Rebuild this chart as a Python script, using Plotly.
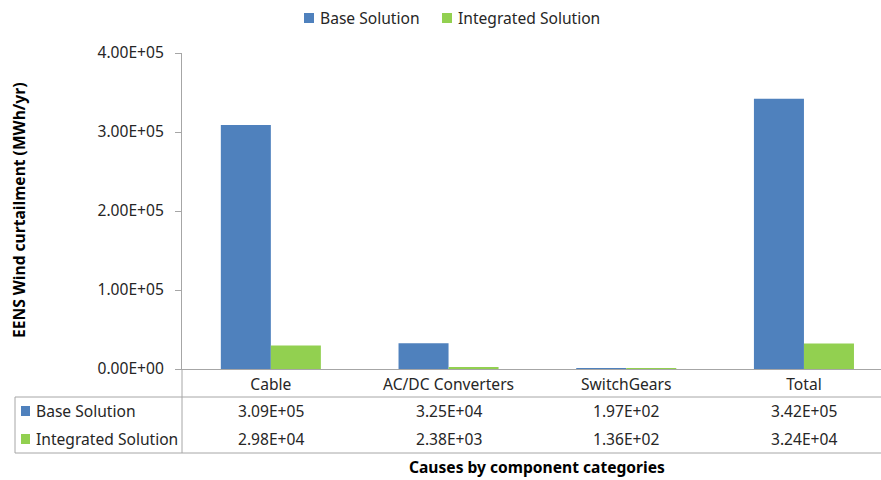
import plotly.graph_objects as go

categories = ["Cable", "AC/DC Converters", "SwitchGears", "Total"]
base_solution = [3.09e5, 3.25e4, 1.97e2, 3.42e5]
integrated_solution = [2.98e4, 2.38e3, 1.36e2, 3.24e4]
series_names = ["Base Solution", "Integrated Solution"]
colors = ["#4F81BD", "#92D050"]
y_ticks = [0, 1e5, 2e5, 3e5, 4e5]

FONT = "Noto Sans"
FS = 15.6
TXT = "#262626"
LINE = "#A6A6A6"
W, H = 881, 480
ML, MR, MT, MB = 182, 0, 53, 111
PW = W - ML - MR
PH = H - MT - MB


def px(x):
    return (x - ML) / PW


def py(y):
    return (H - MB - y) / PH


fig = go.Figure()
for name, vals, col in zip(series_names, [base_solution, integrated_solution], colors):
    fig.add_trace(go.Bar(name=name, x=list(range(len(categories))), y=vals,
                         marker=dict(color=col, line=dict(width=0)), showlegend=False))

shapes = []
annotations = []
# table lines
shapes.append(dict(type="line", xref="paper", yref="paper", x0=px(15), x1=1, y0=py(397), y1=py(397),
                   line=dict(color=LINE, width=1)))
shapes.append(dict(type="line", xref="paper", yref="paper", x0=px(15), x1=1, y0=py(453), y1=py(453),
                   line=dict(color=LINE, width=1)))
shapes.append(dict(type="line", xref="paper", yref="paper", x0=px(15), x1=px(15), y0=py(397), y1=py(453),
                   line=dict(color=LINE, width=1)))
shapes.append(dict(type="line", xref="paper", yref="paper", x0=0, x1=0, y0=0, y1=py(453),
                   line=dict(color=LINE, width=1)))

row_y = [411, 439]
for name, vals, col, ry in zip(series_names, [base_solution, integrated_solution], colors, row_y):
    shapes.append(dict(type="rect", xref="paper", yref="paper", x0=px(21), x1=px(30),
                       y0=py(ry - 5), y1=py(ry + 5), fillcolor=col, line=dict(width=0)))
    annotations.append(dict(text=name, xref="paper", yref="paper", x=px(34), y=py(ry),
                            xanchor="left", yanchor="middle", showarrow=False,
                            font=dict(family=FONT, size=FS, color=TXT)))
    for i, v in enumerate(vals):
        annotations.append(dict(text="{:.2E}".format(v), xref="x", yref="paper", x=i, y=py(ry),
                                xanchor="center", yanchor="middle", showarrow=False,
                                font=dict(family=FONT, size=FS, color=TXT)))

# top legend (drawn manually)
legend_x = [304, 442]
for name, col, lx in zip(series_names, colors, legend_x):
    shapes.append(dict(type="rect", xref="paper", yref="paper", x0=px(lx), x1=px(lx + 10),
                       y0=py(13), y1=py(23), fillcolor=col, line=dict(width=0)))
    annotations.append(dict(text=name, xref="paper", yref="paper", x=px(lx + 14), y=py(18),
                            xanchor="left", yanchor="middle", showarrow=False,
                            font=dict(family=FONT, size=FS, color=TXT)))

annotations.append(dict(text="<b>Causes by component categories</b>", xref="paper", yref="paper",
                        x=px(537), y=py(467), xanchor="center", yanchor="middle", showarrow=False,
                        font=dict(family=FONT, size=FS, color="#000000")))
annotations.append(dict(text="<b>EENS Wind curtailment (MWh/yr)</b>", xref="paper", yref="paper",
                        x=px(19), y=py(211), xanchor="center", yanchor="middle", showarrow=False,
                        textangle=-90, font=dict(family=FONT, size=FS, color="#000000")))

fig.update_layout(
    width=W, height=H,
    margin=dict(l=ML, r=MR, t=MT, b=MB),
    paper_bgcolor="white", plot_bgcolor="white",
    font=dict(family=FONT, size=FS, color=TXT),
    barmode="group", bargap=0.437, bargroupgap=0,
    showlegend=False,
    xaxis=dict(tickvals=list(range(len(categories))), ticktext=categories,
               range=[-0.5, -0.5 + PW / 177.7], showgrid=False, zeroline=False,
               showline=True, linecolor=LINE, linewidth=1, ticks="", fixedrange=True,
               ticklabelstandoff=1,
               tickfont=dict(family=FONT, size=FS, color=TXT)),
    yaxis=dict(range=[0, 4e5], tickvals=y_ticks, ticktext=["{:.2E}".format(v) for v in y_ticks],
               showgrid=False, zeroline=False, showline=True, linecolor=LINE, linewidth=1,
               ticks="outside", ticklen=6, tickcolor=LINE, ticklabelstandoff=8,
               tickfont=dict(family=FONT, size=FS, color=TXT)),
    shapes=shapes, annotations=annotations,
)

fig.write_html("out.html")
